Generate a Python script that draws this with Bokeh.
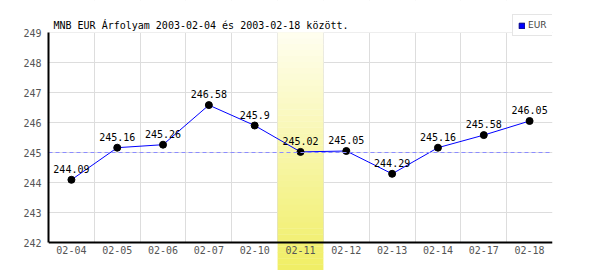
import numpy as np
from bokeh.plotting import figure
from bokeh.models import (Range1d, FixedTicker, BoxAnnotation, Span, Legend,
                          LegendItem, ColumnDataSource, Label)
from bokeh.core.properties import value
from bokeh.embed import file_html
from bokeh.resources import INLINE

# ---- data ----
dates = ["02-04", "02-05", "02-06", "02-07", "02-10", "02-11",
         "02-12", "02-13", "02-14", "02-17", "02-18"]
rates = [244.09, 245.16, 245.26, 246.58, 245.9, 245.02,
         245.05, 244.29, 245.16, 245.58, 246.05]
rate_labels = ["244.09", "245.16", "245.26", "246.58", "245.9", "245.02",
               "245.05", "244.29", "245.16", "245.58", "246.05"]
y_ticks = [242, 243, 244, 245, 246, 247, 248, 249]
reference_level = 245
highlight_date = "02-11"
series_name = "EUR"
title_text = "MNB EUR Árfolyam 2003-02-04 és 2003-02-18 között."

MONO = "DejaVu Sans Mono"
n = len(dates)
xs = [i + 0.5 for i in range(n)]
ymin, ymax = y_ticks[0], y_ticks[-1]
H = 270
PX_PER_UNIT = 30.0
y_lo = ymin - 28 / PX_PER_UNIT   # strip under the x axis (tick-label area)
y_hi = ymax + 32 / PX_PER_UNIT   # strip above the plot (title / legend area)

p = figure(width=600, height=H, output_backend="svg", toolbar_location=None,
           x_range=Range1d(0, n), y_range=Range1d(y_lo, y_hi),
           min_border_left=48, min_border_right=48,
           min_border_top=0, min_border_bottom=0)
p.outline_line_color = None
p.background_fill_color = "white"
p.border_fill_color = "white"

# axes
p.xaxis.ticker = FixedTicker(ticks=xs)
p.xaxis.major_label_overrides = {x: d for x, d in zip(xs, dates)}
p.xaxis.fixed_location = ymin
p.yaxis.ticker = FixedTicker(ticks=y_ticks)
p.yaxis.bounds = (ymin, ymax)
for ax in (p.xaxis[0], p.yaxis[0]):
    ax.axis_line_color = "black"
    ax.axis_line_width = 2
    ax.major_tick_line_color = None
    ax.minor_tick_line_color = None
    ax.major_tick_out = 0
    ax.major_tick_in = 0
    ax.major_label_text_font = MONO
    ax.major_label_text_font_size = "10px"
    ax.major_label_text_color = "#555555"
p.xaxis.major_label_standoff = 3
p.yaxis.major_label_standoff = 7

# grids
p.xgrid.ticker = FixedTicker(ticks=list(range(n + 1)))
p.ygrid.ticker = FixedTicker(ticks=y_ticks)
p.xgrid.grid_line_color = "#dddddd"
p.ygrid.grid_line_color = "#dddddd"

# white strips hiding grid lines outside the plotting box
p.add_layout(BoxAnnotation(bottom=y_lo, top=ymin, fill_color="white",
                           fill_alpha=1.0, line_color=None, level="underlay"))
p.add_layout(BoxAnnotation(bottom=ymax, top=y_hi, fill_color="white",
                           fill_alpha=1.0, line_color=None, level="underlay"))

# highlighted column with vertical gradient (top pale -> bottom yellow)
hi = dates.index(highlight_date)
top_c = np.array([255, 254, 240])
bot_c = np.array([240, 238, 100])
N = 40
edges = np.linspace(ymax, y_lo, N + 1)
for k in range(N):
    t = (k + 0.5) / N
    c = (top_c + (bot_c - top_c) * t).round().astype(int)
    col = "#%02x%02x%02x" % tuple(c)
    p.add_layout(BoxAnnotation(left=hi, right=hi + 1,
                               top=edges[k] + 0.01, bottom=edges[k + 1],
                               fill_color=col, fill_alpha=1.0,
                               line_color=None, level="underlay"))

# reference dashed line
p.add_layout(Span(location=reference_level, dimension="width",
                  line_color="#8c8cff", line_dash="4 3", line_width=1,
                  level="glyph"))

src = ColumnDataSource(dict(x=xs, y=rates, lab=rate_labels))
p.line("x", "y", source=src, line_color="#0000ff", line_width=1)
p.scatter("x", "y", source=src, size=7, fill_color="black", line_color="black")
p.text("x", "y", text="lab", source=src, text_align="center",
       text_baseline="alphabetic", y_offset=-11, text_color="black",
       text_font=value(MONO), text_font_size="10px")

# title (inside the extended frame)
p.add_layout(Label(x=5, y=H - 25, x_units="screen", y_units="screen",
                   text=title_text, text_font=MONO, text_font_size="10px",
                   text_color="black", text_baseline="alphabetic"))

# legend swatch (a non-drawn box, only used for the legend glyph)
sw = p.quad(left=[np.nan], right=[np.nan], top=[np.nan], bottom=[np.nan],
            fill_color="#0000ff", line_color="#000080", line_width=1)
legend = Legend(items=[LegendItem(label=series_name, renderers=[sw], index=0)],
                location=(464, H - 36), margin=0, padding=5, spacing=0,
                glyph_width=7, glyph_height=7, label_standoff=3,
                label_text_font="DejaVu Sans", label_text_font_size="9px",
                label_height=10, border_line_color="#cccccc",
                background_fill_color="white", background_fill_alpha=1.0)
p.add_layout(legend)

open("out.html", "w").write(file_html(p, INLINE))
